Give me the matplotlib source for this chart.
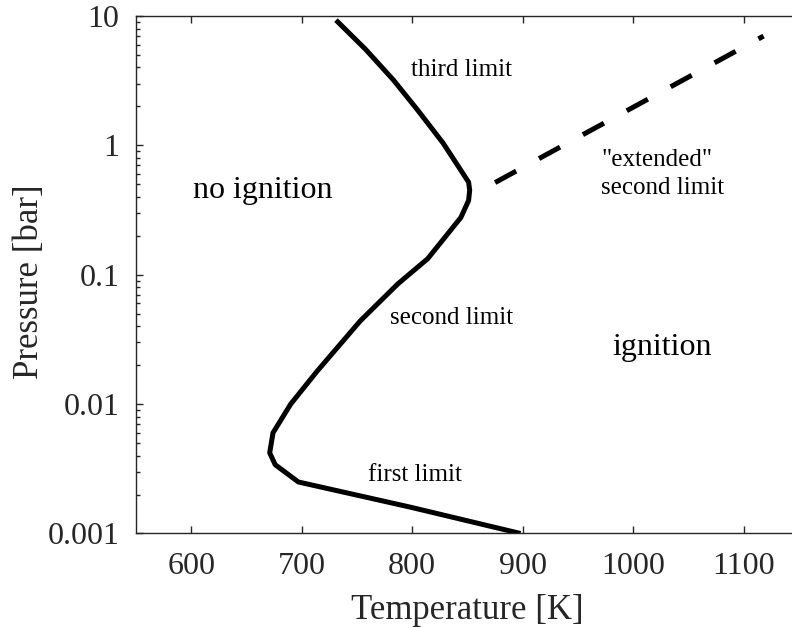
import matplotlib
matplotlib.use("Agg")
import matplotlib.pyplot as plt
from matplotlib.ticker import FixedLocator, FixedFormatter, LogLocator, NullFormatter

plt.rcParams['font.family'] = ['Liberation Serif', 'DejaVu Serif']

# explosion limit curve (first / second / third limit)
limit_T = [731, 758, 783, 805, 828, 851, 852, 851, 844, 814, 787, 753, 714, 690, 674, 671, 676, 697, 798, 898]
limit_P = [9.3, 5.5, 3.2, 1.87, 1.04, 0.52, 0.45, 0.375, 0.277, 0.133, 0.085, 0.044, 0.018, 0.010,
           0.006, 0.0042, 0.0034, 0.0025, 0.0016, 0.001]

# "extended" second limit
ext_T = [875, 1118]
ext_P = [0.516, 7.0]

x_ticks = [600, 700, 800, 900, 1000, 1100]
y_ticks = [0.001, 0.01, 0.1, 1, 10]
y_tick_labels = ['0.001', '0.01', '0.1', '1', '10']

axis_col = '#262626'

fig = plt.figure(figsize=(7.92, 6.28), dpi=100)
ax = fig.add_axes([0.1717, 0.1505, 0.8371, 0.8240])

ax.plot(limit_T, limit_P, color='black', lw=3.6, solid_joinstyle='round', solid_capstyle='butt')
ax.plot(ext_T, ext_P, color='black', lw=3.6, dashes=(4.8, 5.2), dash_capstyle='butt')

ax.set_yscale('log')
ax.set_xlim(550, 1150)
ax.set_ylim(0.001, 10)

ax.xaxis.set_major_locator(FixedLocator(x_ticks))
ax.yaxis.set_major_locator(FixedLocator(y_ticks))
ax.yaxis.set_major_formatter(FixedFormatter(y_tick_labels))
ax.yaxis.set_minor_locator(LogLocator(base=10, subs=range(2, 10)))
ax.yaxis.set_minor_formatter(NullFormatter())

ax.tick_params(which='both', direction='in', top=True, right=True, color=axis_col,
               labelcolor=axis_col, labelsize=23, width=1.0)
ax.tick_params(which='major', length=5)
ax.tick_params(which='minor', length=3)
ax.tick_params(axis='x', pad=13)
ax.tick_params(axis='y', pad=12)
for s in ax.spines.values():
    s.set_color(axis_col)
    s.set_linewidth(1.0)

ax.set_xlabel('Temperature [K]', fontsize=25, color=axis_col)
ax.set_ylabel('Pressure [bar]', fontsize=25, color=axis_col)
ax.xaxis.set_label_coords(0.5, -0.116)
ax.yaxis.set_label_coords(-0.135, 0.486)

ax.text(845, 3.8, 'third limit', fontsize=18, ha='center', va='center')
ax.text(665, 0.45, 'no ignition', fontsize=23, ha='center', va='center')
ax.text(971, 0.6, '"extended"\nsecond limit', fontsize=18, ha='left', va='center', linespacing=1.4)
ax.text(836, 0.0464, 'second limit', fontsize=18, ha='center', va='center')
ax.text(1026, 0.0272, 'ignition', fontsize=23, ha='center', va='center')
ax.text(802, 0.00282, 'first limit', fontsize=18, ha='center', va='center')

fig.savefig('out.png', dpi=100)
